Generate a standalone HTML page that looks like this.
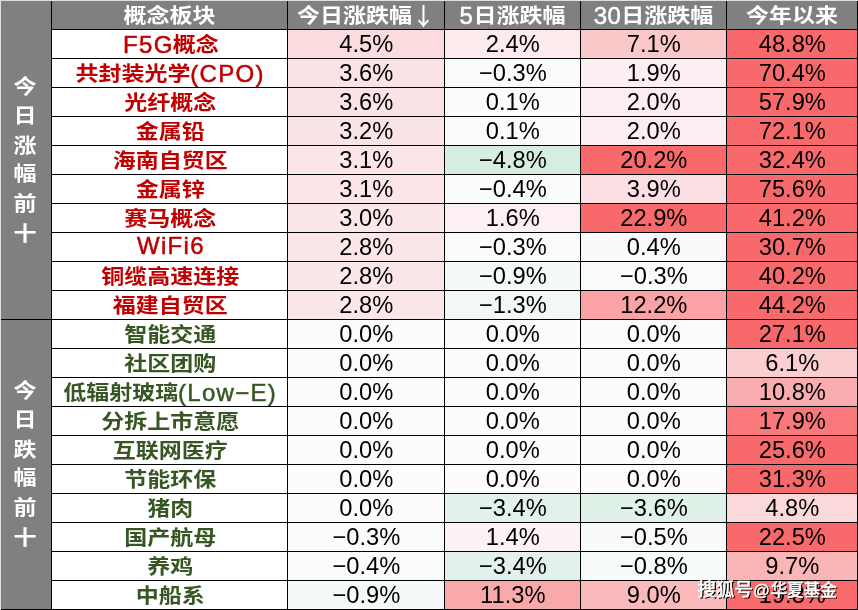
<!DOCTYPE html>
<html lang="zh-CN"><head><meta charset="utf-8"><title>概念板块涨跌幅</title>
<style>
html,body{margin:0;padding:0;}
body{width:858px;height:610px;position:relative;overflow:hidden;background:#808080;
 font-family:"Liberation Sans","Noto Sans CJK SC",sans-serif;}
.edgeL{position:absolute;left:0;top:0;width:1px;height:610px;background:#DEDEDE;}
.edgeT{position:absolute;left:0;top:0;width:858px;height:1px;background:#DEDEDE;}
.c{position:absolute;height:28px;line-height:28px;text-align:center;font-size:23.7px;color:#000;white-space:nowrap;overflow:visible;}
.c .d{display:inline-block;position:relative;top:0.4px;left:0.3px;}
.h{color:#fff;font-weight:700;background:#808080;font-size:23px;}
.n{font-weight:700;background:#fff;font-size:23px;padding-left:1.4px;box-sizing:border-box;}
.n .z + .l{margin-left:-0.3px;}
.n .l + .z{margin-left:-0.8px;}
.z{display:inline-block;font-family:"Noto Sans CJK SC",sans-serif;transform:scaleY(.885);transform-origin:50% 50%;position:relative;top:-0.6px;}
.l{font-family:"Liberation Sans",sans-serif;font-weight:400;font-size:24px;letter-spacing:1.3px;-webkit-text-stroke:0.5px currentColor;position:relative;top:-1px;margin-left:1.5px;}
.ar{display:inline-block;font-family:"Noto Sans CJK SC",sans-serif;font-weight:500;transform:scaleY(1.06);transform-origin:50% 50%;position:relative;top:-0.6px;}
.h .l{letter-spacing:0.5px;margin-left:0;}
.r{color:#C00000;}
.g{color:#375623;}
.vl{position:absolute;top:1px;width:1px;height:609px;background:#000;}
.hl{position:absolute;left:52px;width:806px;height:1px;background:#000;}
.side{position:absolute;left:0px;width:50px;color:#fff;font-weight:700;font-size:23px;line-height:33.8px;text-align:center;
 font-family:"Noto Sans CJK SC",sans-serif;transform:scaleY(.87);transform-origin:50% 0;}
.wm{position:absolute;left:697.6px;top:578.3px;font-size:18.4px;line-height:24px;font-weight:500;color:#fff;white-space:nowrap;font-family:"Liberation Sans","Noto Sans CJK SC",sans-serif;
 -webkit-text-stroke:0.35px #fff;text-shadow:1.3px 1.3px 0.3px #000;}
.wm .a{font-size:16.6px;margin:0 0.6px 0 0.2px;}
.wm .b{font-size:16.6px;}
</style></head><body>
<div class="edgeL"></div><div class="edgeT"></div>

<div class="c h" style="left:52px;top:1px;width:235px"><span class="z">概念板块</span></div>
<div class="c h" style="left:288px;top:1px;width:156px"><span class="z">今日涨跌幅</span><span class="ar">↓</span></div>
<div class="c h" style="left:445px;top:1px;width:135px"><span class="l">5</span><span class="z">日涨跌幅</span></div>
<div class="c h" style="left:581px;top:1px;width:145px"><span class="l">30</span><span class="z">日涨跌幅</span></div>
<div class="c h" style="left:727px;top:1px;width:130px"><span class="z">今年以来</span></div>
<div class="c n r" style="left:52px;top:30px;width:235px"><span class="l">F5G</span><span class="z">概念</span></div>
<div class="c" style="left:288px;top:30px;width:156px;background:#FBDBDE"><span class="d">4.5%</span></div>
<div class="c" style="left:445px;top:30px;width:135px;background:#FCEAED"><span class="d">2.4%</span></div>
<div class="c" style="left:581px;top:30px;width:145px;background:#FBC8CA"><span class="d">7.1%</span></div>
<div class="c" style="left:727px;top:30px;width:130px;background:#F8696B"><span class="d">48.8%</span></div>
<div class="c n r" style="left:52px;top:59px;width:235px"><span class="z">共封装光学</span><span class="l">(CPO)</span></div>
<div class="c" style="left:288px;top:59px;width:156px;background:#FBE2E4"><span class="d">3.6%</span></div>
<div class="c" style="left:445px;top:59px;width:135px;background:#FAFBFD"><span class="d">−0.3%</span></div>
<div class="c" style="left:581px;top:59px;width:145px;background:#FCEEF1"><span class="d">1.9%</span></div>
<div class="c" style="left:727px;top:59px;width:130px;background:#F8696B"><span class="d">70.4%</span></div>
<div class="c n r" style="left:52px;top:88px;width:235px"><span class="z">光纤概念</span></div>
<div class="c" style="left:288px;top:88px;width:156px;background:#FBE2E4"><span class="d">3.6%</span></div>
<div class="c" style="left:445px;top:88px;width:135px;background:#FCFBFE"><span class="d">0.1%</span></div>
<div class="c" style="left:581px;top:88px;width:145px;background:#FCEDF0"><span class="d">2.0%</span></div>
<div class="c" style="left:727px;top:88px;width:130px;background:#F8696B"><span class="d">57.9%</span></div>
<div class="c n r" style="left:52px;top:117px;width:235px"><span class="z">金属铅</span></div>
<div class="c" style="left:288px;top:117px;width:156px;background:#FBE4E7"><span class="d">3.2%</span></div>
<div class="c" style="left:445px;top:117px;width:135px;background:#FCFBFE"><span class="d">0.1%</span></div>
<div class="c" style="left:581px;top:117px;width:145px;background:#FCEDF0"><span class="d">2.0%</span></div>
<div class="c" style="left:727px;top:117px;width:130px;background:#F8696B"><span class="d">72.1%</span></div>
<div class="c n r" style="left:52px;top:146px;width:235px"><span class="z">海南自贸区</span></div>
<div class="c" style="left:288px;top:146px;width:156px;background:#FBE5E8"><span class="d">3.1%</span></div>
<div class="c" style="left:445px;top:146px;width:135px;background:#D7EDDF"><span class="d">−4.8%</span></div>
<div class="c" style="left:581px;top:146px;width:145px;background:#F8696B"><span class="d">20.2%</span></div>
<div class="c" style="left:727px;top:146px;width:130px;background:#F8696B"><span class="d">32.4%</span></div>
<div class="c n r" style="left:52px;top:175px;width:235px"><span class="z">金属锌</span></div>
<div class="c" style="left:288px;top:175px;width:156px;background:#FBE5E8"><span class="d">3.1%</span></div>
<div class="c" style="left:445px;top:175px;width:135px;background:#F9FBFC"><span class="d">−0.4%</span></div>
<div class="c" style="left:581px;top:175px;width:145px;background:#FBDFE2"><span class="d">3.9%</span></div>
<div class="c" style="left:727px;top:175px;width:130px;background:#F8696B"><span class="d">75.6%</span></div>
<div class="c n r" style="left:52px;top:204px;width:235px"><span class="z">赛马概念</span></div>
<div class="c" style="left:288px;top:204px;width:156px;background:#FBE6E9"><span class="d">3.0%</span></div>
<div class="c" style="left:445px;top:204px;width:135px;background:#FCF0F3"><span class="d">1.6%</span></div>
<div class="c" style="left:581px;top:204px;width:145px;background:#F8696B"><span class="d">22.9%</span></div>
<div class="c" style="left:727px;top:204px;width:130px;background:#F8696B"><span class="d">41.2%</span></div>
<div class="c n r" style="left:52px;top:233px;width:235px"><span class="l">WiFi6</span></div>
<div class="c" style="left:288px;top:233px;width:156px;background:#FBE7EA"><span class="d">2.8%</span></div>
<div class="c" style="left:445px;top:233px;width:135px;background:#FAFBFD"><span class="d">−0.3%</span></div>
<div class="c" style="left:581px;top:233px;width:145px;background:#FCF9FC"><span class="d">0.4%</span></div>
<div class="c" style="left:727px;top:233px;width:130px;background:#F8696B"><span class="d">30.7%</span></div>
<div class="c n r" style="left:52px;top:262px;width:235px"><span class="z">铜缆高速连接</span></div>
<div class="c" style="left:288px;top:262px;width:156px;background:#FBE7EA"><span class="d">2.8%</span></div>
<div class="c" style="left:445px;top:262px;width:135px;background:#F5F9F9"><span class="d">−0.9%</span></div>
<div class="c" style="left:581px;top:262px;width:145px;background:#FAFBFD"><span class="d">−0.3%</span></div>
<div class="c" style="left:727px;top:262px;width:130px;background:#F8696B"><span class="d">40.2%</span></div>
<div class="c n r" style="left:52px;top:291px;width:235px"><span class="z">福建自贸区</span></div>
<div class="c" style="left:288px;top:291px;width:156px;background:#FBE7EA"><span class="d">2.8%</span></div>
<div class="c" style="left:445px;top:291px;width:135px;background:#F2F8F6"><span class="d">−1.3%</span></div>
<div class="c" style="left:581px;top:291px;width:145px;background:#FAA2A5"><span class="d">12.2%</span></div>
<div class="c" style="left:727px;top:291px;width:130px;background:#F8696B"><span class="d">44.2%</span></div>
<div class="c n g" style="left:52px;top:320px;width:235px"><span class="z">智能交通</span></div>
<div class="c" style="left:288px;top:320px;width:156px;background:#FCFCFF"><span class="d">0.0%</span></div>
<div class="c" style="left:445px;top:320px;width:135px;background:#FCFCFF"><span class="d">0.0%</span></div>
<div class="c" style="left:581px;top:320px;width:145px;background:#FCFCFF"><span class="d">0.0%</span></div>
<div class="c" style="left:727px;top:320px;width:130px;background:#F8696B"><span class="d">27.1%</span></div>
<div class="c n g" style="left:52px;top:349px;width:235px"><span class="z">社区团购</span></div>
<div class="c" style="left:288px;top:349px;width:156px;background:#FCFCFF"><span class="d">0.0%</span></div>
<div class="c" style="left:445px;top:349px;width:135px;background:#FCFCFF"><span class="d">0.0%</span></div>
<div class="c" style="left:581px;top:349px;width:145px;background:#FCFCFF"><span class="d">0.0%</span></div>
<div class="c" style="left:727px;top:349px;width:130px;background:#FBCFD2"><span class="d">6.1%</span></div>
<div class="c n g" style="left:52px;top:378px;width:235px"><span class="z">低辐射玻璃</span><span class="l">(Low−E)</span></div>
<div class="c" style="left:288px;top:378px;width:156px;background:#FCFCFF"><span class="d">0.0%</span></div>
<div class="c" style="left:445px;top:378px;width:135px;background:#FCFCFF"><span class="d">0.0%</span></div>
<div class="c" style="left:581px;top:378px;width:145px;background:#FCFCFF"><span class="d">0.0%</span></div>
<div class="c" style="left:727px;top:378px;width:130px;background:#FAADAF"><span class="d">10.8%</span></div>
<div class="c n g" style="left:52px;top:407px;width:235px"><span class="z">分拆上市意愿</span></div>
<div class="c" style="left:288px;top:407px;width:156px;background:#FCFCFF"><span class="d">0.0%</span></div>
<div class="c" style="left:445px;top:407px;width:135px;background:#FCFCFF"><span class="d">0.0%</span></div>
<div class="c" style="left:581px;top:407px;width:145px;background:#FCFCFF"><span class="d">0.0%</span></div>
<div class="c" style="left:727px;top:407px;width:130px;background:#F8787B"><span class="d">17.9%</span></div>
<div class="c n g" style="left:52px;top:436px;width:235px"><span class="z">互联网医疗</span></div>
<div class="c" style="left:288px;top:436px;width:156px;background:#FCFCFF"><span class="d">0.0%</span></div>
<div class="c" style="left:445px;top:436px;width:135px;background:#FCFCFF"><span class="d">0.0%</span></div>
<div class="c" style="left:581px;top:436px;width:145px;background:#FCFCFF"><span class="d">0.0%</span></div>
<div class="c" style="left:727px;top:436px;width:130px;background:#F8696B"><span class="d">25.6%</span></div>
<div class="c n g" style="left:52px;top:465px;width:235px"><span class="z">节能环保</span></div>
<div class="c" style="left:288px;top:465px;width:156px;background:#FCFCFF"><span class="d">0.0%</span></div>
<div class="c" style="left:445px;top:465px;width:135px;background:#FCFCFF"><span class="d">0.0%</span></div>
<div class="c" style="left:581px;top:465px;width:145px;background:#FCFCFF"><span class="d">0.0%</span></div>
<div class="c" style="left:727px;top:465px;width:130px;background:#F8696B"><span class="d">31.3%</span></div>
<div class="c n g" style="left:52px;top:494px;width:235px"><span class="z">猪肉</span></div>
<div class="c" style="left:288px;top:494px;width:156px;background:#FCFCFF"><span class="d">0.0%</span></div>
<div class="c" style="left:445px;top:494px;width:135px;background:#E2F1E9"><span class="d">−3.4%</span></div>
<div class="c" style="left:581px;top:494px;width:145px;background:#E0F1E7"><span class="d">−3.6%</span></div>
<div class="c" style="left:727px;top:494px;width:130px;background:#FBD9DB"><span class="d">4.8%</span></div>
<div class="c n g" style="left:52px;top:523px;width:235px"><span class="z">国产航母</span></div>
<div class="c" style="left:288px;top:523px;width:156px;background:#FAFBFD"><span class="d">−0.3%</span></div>
<div class="c" style="left:445px;top:523px;width:135px;background:#FCF2F5"><span class="d">1.4%</span></div>
<div class="c" style="left:581px;top:523px;width:145px;background:#F8FAFC"><span class="d">−0.5%</span></div>
<div class="c" style="left:727px;top:523px;width:130px;background:#F8696B"><span class="d">22.5%</span></div>
<div class="c n g" style="left:52px;top:552px;width:235px"><span class="z">养鸡</span></div>
<div class="c" style="left:288px;top:552px;width:156px;background:#F9FBFC"><span class="d">−0.4%</span></div>
<div class="c" style="left:445px;top:552px;width:135px;background:#E2F1E9"><span class="d">−3.4%</span></div>
<div class="c" style="left:581px;top:552px;width:145px;background:#F6FAFA"><span class="d">−0.8%</span></div>
<div class="c" style="left:727px;top:552px;width:130px;background:#FAB5B7"><span class="d">9.7%</span></div>
<div class="c n g" style="left:52px;top:581px;width:235px"><span class="z">中船系</span></div>
<div class="c" style="left:288px;top:581px;width:156px;background:#F5F9F9"><span class="d">−0.9%</span></div>
<div class="c" style="left:445px;top:581px;width:135px;background:#FAA9AB"><span class="d">11.3%</span></div>
<div class="c" style="left:581px;top:581px;width:145px;background:#FABABC"><span class="d">9.0%</span></div>
<div class="c" style="left:727px;top:581px;width:130px;background:#F86A6C"><span class="d">19.8%</span></div>
<div class="vl" style="left:51px"></div>
<div class="vl" style="left:287px"></div>
<div class="vl" style="left:444px"></div>
<div class="vl" style="left:580px"></div>
<div class="vl" style="left:726px"></div>
<div class="vl" style="left:857px"></div>
<div class="hl" style="top:29px"></div>
<div class="hl" style="top:58px"></div>
<div class="hl" style="top:87px"></div>
<div class="hl" style="top:116px"></div>
<div class="hl" style="top:145px"></div>
<div class="hl" style="top:174px"></div>
<div class="hl" style="top:203px"></div>
<div class="hl" style="top:232px"></div>
<div class="hl" style="top:261px"></div>
<div class="hl" style="top:290px"></div>
<div class="hl" style="top:319px;left:1px;width:857px"></div>
<div class="hl" style="top:348px"></div>
<div class="hl" style="top:377px"></div>
<div class="hl" style="top:406px"></div>
<div class="hl" style="top:435px"></div>
<div class="hl" style="top:464px"></div>
<div class="hl" style="top:493px"></div>
<div class="hl" style="top:522px"></div>
<div class="hl" style="top:551px"></div>
<div class="hl" style="top:580px"></div>
<div class="hl" style="top:609px;left:1px;width:857px"></div>
<div class="side" style="top:70.65px">今<br>日<br>涨<br>幅<br>前<br>十</div>
<div class="side" style="top:374.75px">今<br>日<br>跌<br>幅<br>前<br>十</div>
<div class="wm">搜狐号<span class="a">@</span><span class="b">华夏基金</span></div>
</body></html>
